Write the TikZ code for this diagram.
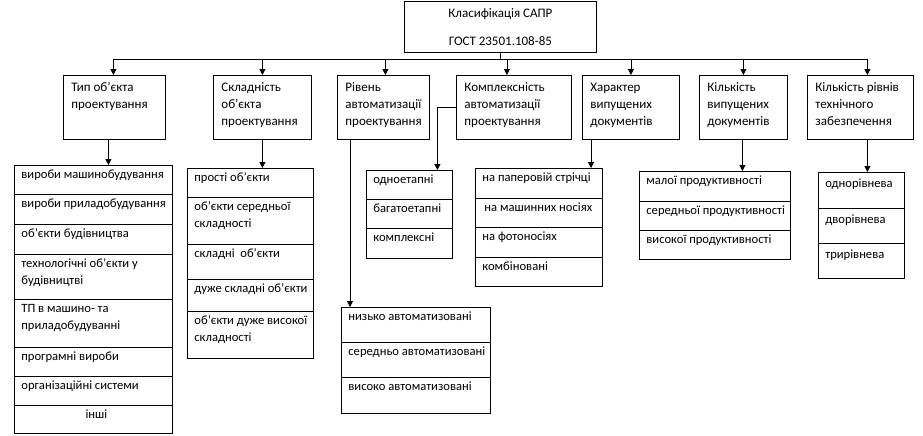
\documentclass[tikz,border=0pt]{standalone}
\usepackage{fontspec}
\setmainfont{Carlito}
\usetikzlibrary{arrows.meta}

% a cell of a list: total width, total height (pt), text at the top
\newcommand{\cellbox}[3]{\parbox[t][\dimexpr#2pt-2pt\relax][t]{#1pt}{\raggedright\leftskip=7pt\strut#3}}
\newcommand{\headbox}[3]{\parbox[t][\dimexpr#2pt-9pt\relax][t]{#1pt}{\raggedright\leftskip=8pt\strut#3}}

\begin{document}
\begin{tikzpicture}[x=1pt,y=-1pt,>={Triangle[width=6pt,length=6pt]},
  every node/.style={font=\fontsize{13pt}{17pt}\selectfont},
  cell/.style={draw,line width=0.8pt,anchor=north west,inner xsep=0pt,inner ysep=1pt,
               font=\fontsize{12.6pt}{17pt}\selectfont},
  head/.style={draw,line width=0.8pt,anchor=north west,inner xsep=0pt,inner ysep=4.5pt},
  every path/.style={line width=0.8pt}]
  \useasboundingbox (0,0) rectangle (923,436);

  % root
  \node[draw,line width=0.8pt,anchor=north west,minimum width=192pt,minimum height=51pt,
        align=center] (top) at (404,1) {Класифікація САПР\\[11pt]ГОСТ 23501.108-85};
  \coordinate (bus) at (0,59);

  % criteria
  \node[head] (h1) at (63,75)  {\headbox{102}{64}{Тип об'єкта\\проектування}};
  \node[head] (h2) at (213,75) {\headbox{98}{64}{Складність\\об'єкта\\проектування}};
  \node[head] (h3) at (337,75) {\headbox{92}{64}{Рівень\\автоматизації\\проектування}};
  \node[head] (h4) at (456,75) {\headbox{115}{64}{Комплексність\\автоматизації\\проектування}};
  \node[head] (h5) at (582,75) {\headbox{97}{64}{Характер\\випущених\\документів}};
  \node[head] (h6) at (699,75) {\headbox{88}{64}{Кількість\\випущених\\документів}};
  \node[head] (h7) at (807,75) {\headbox{106}{64}{Кількість рівнів\\технічного\\забезпечення}};

  % type of object
  \node[cell] (l1a) at (14,165) {\cellbox{158}{29}{вироби машинобудування}};
  \node[cell] (l1b) at (14,194) {\cellbox{158}{30}{вироби приладобудування}};
  \node[cell] (l1c) at (14,224) {\cellbox{158}{30}{об'єкти будівництва}};
  \node[cell] (l1d) at (14,254) {\cellbox{158}{45}{технологічні об'єкти у\\будівництві}};
  \node[cell] (l1e) at (14,299) {\cellbox{158}{48}{ТП в машино- та\\приладобудуванні}};
  \node[cell] (l1f) at (14,347) {\cellbox{158}{29}{програмні вироби}};
  \node[cell] (l1g) at (14,376) {\cellbox{158}{29}{організаційні системи}};
  \node[cell] (l1h) at (14,405) {\cellbox{158}{28}{\centering\hspace*{6pt}інші}};

  % complexity
  \node[cell] (l2a) at (187,168) {\cellbox{126}{29}{прості об'єкти}};
  \node[cell] (l2b) at (187,197) {\cellbox{126}{47}{об'єкти середньої\\складності}};
  \node[cell] (l2c) at (187,244) {\cellbox{126}{35}{складні\ \ об'єкти}};
  \node[cell] (l2d) at (187,279) {\cellbox{126}{32}{дуже складні об'єкти}};
  \node[cell] (l2e) at (187,311) {\cellbox{126}{47}{об'єкти дуже високої\\складності}};

  % automation level
  \node[cell] (l3a) at (341,307) {\cellbox{149}{35}{низько автоматизовані}};
  \node[cell] (l3b) at (341,342) {\cellbox{149}{35}{середньо автоматизовані}};
  \node[cell] (l3c) at (341,377) {\cellbox{149}{36}{високо автоматизовані}};

  % complexity of automation
  \node[cell] (l4a) at (366,170) {\cellbox{86}{29}{одноетапні}};
  \node[cell] (l4b) at (366,199) {\cellbox{86}{29}{багатоетапні}};
  \node[cell] (l4c) at (366,228) {\cellbox{86}{30}{комплексні}};

  % documents
  \node[cell] (l5a) at (475,168) {\cellbox{127}{30}{на паперовій стрічці}};
  \node[cell] (l5b) at (475,198) {\cellbox{127}{29}{\hspace*{2pt}на машинних носіях}};
  \node[cell] (l5c) at (475,227) {\cellbox{127}{30}{на фотоносіях}};
  \node[cell] (l5d) at (475,257) {\cellbox{127}{29}{комбіновані}};

  % productivity
  \node[cell] (l6a) at (639,171) {\cellbox{151}{30}{малої продуктивності}};
  \node[cell] (l6b) at (639,201) {\cellbox{151}{29}{середньої продуктивності}};
  \node[cell] (l6c) at (639,230) {\cellbox{151}{29}{високої продуктивності}};

  % levels
  \node[cell,inner ysep=3pt] (l7a) at (818,172) {\cellbox{86}{32}{однорівнева}};
  \node[cell,inner ysep=3pt] (l7b) at (818,208) {\cellbox{86}{31}{дворівнева}};
  \node[cell,inner ysep=3pt] (l7c) at (818,243) {\cellbox{86}{31}{трирівнева}};

  % root to criteria
  \draw (top.south) -- (top.south |- bus);
  \draw ([xshift=-1pt]h1.north |- bus) -- ([xshift=7pt]h7.north |- bus);
  \foreach \h/\dx in {h1/-1,h2/0,h3/2,h4/-7,h5/0,h6/0,h7/7}
    \draw[->] ([xshift=\dx pt]\h.north |- bus) -- ([xshift=\dx pt]\h.north);

  % criteria to lists
  \draw[->] ([xshift=-6pt]h1.south) -- ([xshift=-6pt]h1.south |- l1a.north);
  \draw[->] (h2.south) -- (h2.south |- l2a.north);
  \draw[->] ([xshift=13pt]h3.south west) -- ([xshift=13pt]h3.south west |- l3a.north);
  \draw[->] (h4.west) -| ([xshift=28pt]l4a.north);
  \draw[->] ([xshift=9pt]h5.south west) -- ([xshift=9pt]h5.south west |- l5a.north);
  \draw[->] ([xshift=-1pt]h6.south) -- ([xshift=-1pt]h6.south |- l6a.north);
  \draw[->] ([xshift=7pt]h7.south) -- ([xshift=7pt]h7.south |- l7a.north);
\end{tikzpicture}
\end{document}
